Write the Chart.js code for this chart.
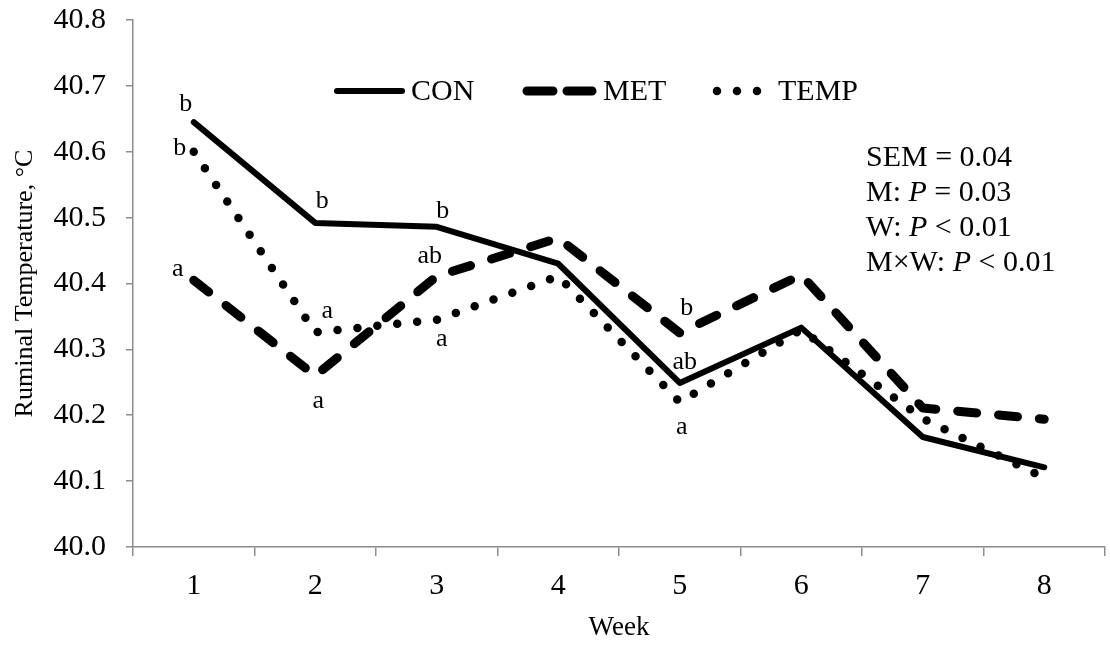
<!DOCTYPE html>
<html>
<head>
<meta charset="utf-8">
<script src="https://cdn.jsdelivr.net/npm/chart.js@4.4.1/dist/chart.umd.min.js"></script>
<style>
  html, body { margin: 0; padding: 0; background: #fff; }
  #wrap { width: 1110px; height: 645px; }
</style>
</head>
<body>
<div id="wrap"><canvas id="grafico" width="1110" height="645"></canvas></div>
<script>
// semanas y temperatura ruminal media (°C)
const semanas = ['1', '2', '3', '4', '5', '6', '7', '8'];
const con = [40.645, 40.492, 40.486, 40.430, 40.249, 40.333, 40.167, 40.121];
const met = [40.405, 40.260, 40.411, 40.469, 40.325, 40.413, 40.211, 40.194];
const temp = [40.600, 40.326, 40.345, 40.411, 40.220, 40.330, 40.195, 40.105];

// letras de separación de medias por semana
const letrasCon = ['b', 'b', 'b', '', 'ab', '', '', ''];
const letrasMet = ['a', 'a', 'ab', '', 'b', '', '', ''];
const letrasTemp = ['b', 'a', 'a', '', 'a', '', '', ''];

const yTicks = [40.0, 40.1, 40.2, 40.3, 40.4, 40.5, 40.6, 40.7, 40.8];

const FUENTE = '"Liberation Serif", "Times New Roman", serif';
const GRIS = '#8c8c8c';

const estilos = {
  CON: { borderWidth: 6, borderDash: [], cap: 'round' },
  MET: { borderWidth: 9, borderDash: [19, 22], cap: 'round' },
  TEMP: { borderWidth: 8.5, borderDash: [0, 20], cap: 'round' },
};

// desplazamiento (px) de cada letra respecto a su punto: [CON, MET, TEMP]
const offsets = {
  0: [[-8, -18], [-16, -11], [-14, -4]],
  1: [[7, -22], [3, 25], [12, -21]],
  2: [[6, -16], [-7, -20], [5, 19]],
  4: [[5, -21], [7, -25], [2, 25]],
};

const anotaciones = {
  id: 'anotaciones',
  afterDatasetsDraw(chart) {
    const ctx = chart.ctx;
    ctx.save();
    ctx.fillStyle = '#000';

    // letras
    ctx.font = '26px ' + FUENTE;
    ctx.textAlign = 'center';
    ctx.textBaseline = 'middle';
    const letras = [letrasCon, letrasMet, letrasTemp];
    letras.forEach((serie, d) => {
      const meta = chart.getDatasetMeta(d);
      serie.forEach((txt, i) => {
        if (!txt) return;
        const p = meta.data[i];
        const off = offsets[i][d];
        ctx.fillText(txt, p.x + off[0], p.y + off[1]);
      });
    });

    // leyenda
    const ly = 91;
    const items = [
      { key: 'CON', x0: 337, x1: 402, tx: 411, dash: [] },
      { key: 'MET', x0: 527, x1: 592, tx: 603, dash: [26, 14] },
      { key: 'TEMP', x0: 717, x1: 774, tx: 778, dash: estilos.TEMP.borderDash },
    ];
    ctx.textAlign = 'left';
    ctx.font = '30px ' + FUENTE;
    items.forEach((it) => {
      const e = estilos[it.key];
      ctx.save();
      ctx.strokeStyle = '#000';
      ctx.lineWidth = e.borderWidth;
      ctx.lineCap = e.cap;
      ctx.setLineDash(it.dash);
      ctx.beginPath();
      ctx.moveTo(it.x0, ly);
      ctx.lineTo(it.x1, ly);
      ctx.stroke();
      ctx.restore();
      ctx.fillText(it.key, it.tx, ly + 1);
    });

    // estadísticos
    const sx = 866;
    const lineas = [
      [['SEM = 0.04', false]],
      [['M: ', false], ['P', true], [' = 0.03', false]],
      [['W: ', false], ['P', true], [' < 0.01', false]],
      [['M\u00d7W: ', false], ['P', true], [' < 0.01', false]],
    ];
    lineas.forEach((partes, k) => {
      let x = sx;
      const y = 158 + k * 35;
      partes.forEach(([t, it]) => {
        ctx.font = (it ? 'italic ' : '') + '30px ' + FUENTE;
        ctx.fillText(t, x, y);
        x += ctx.measureText(t).width;
      });
    });
    ctx.restore();
  },
};

const serie = (label, data) => ({
  label,
  data,
  borderColor: '#000',
  backgroundColor: '#000',
  borderWidth: estilos[label].borderWidth,
  borderDash: estilos[label].borderDash,
  borderCapStyle: estilos[label].cap,
  borderJoinStyle: 'round',
  pointRadius: 0,
  tension: 0,
  fill: false,
});

const chart = new Chart(document.getElementById('grafico'), {
  type: 'line',
  data: {
    labels: semanas,
    datasets: [serie('CON', con), serie('MET', met), serie('TEMP', temp)],
  },
  options: {
    responsive: false,
    animation: false,
    layout: { padding: { left: 0, right: 5, top: 20, bottom: 0 } },
    plugins: { legend: { display: false }, tooltip: { enabled: false } },
    scales: {
      x: {
        type: 'category',
        offset: true,
        grid: { offset: true, drawOnChartArea: false, drawTicks: true, tickLength: 9, color: GRIS, lineWidth: 1.5 },
        border: { color: GRIS, width: 1.5 },
        ticks: { color: '#000', font: { family: FUENTE, size: 30 }, padding: 12, maxRotation: 0 },
        title: { display: true, text: 'Week', color: '#000', font: { family: FUENTE, size: 27 }, padding: { top: 6, bottom: 1 } },
        afterFit: (s) => { s.height = 98; },
      },
      y: {
        min: 40.0,
        max: 40.8,
        afterBuildTicks: (s) => { s.ticks = yTicks.map((v) => ({ value: v })); },
        grid: { drawOnChartArea: false, drawTicks: true, tickLength: 7, color: GRIS, lineWidth: 1.5 },
        border: { color: GRIS, width: 1.5 },
        ticks: { color: '#000', font: { family: FUENTE, size: 30 }, padding: 20, callback: (v) => Number(v).toFixed(1) },
        title: { display: true, text: 'Ruminal Temperature, \u00b0C', color: '#000', font: { family: FUENTE, size: 26 }, padding: { top: 10, bottom: 0 } },
        afterFit: (s) => {
          s.width = 133;
          // el margen superior lo fija layout.padding
          s.paddingTop = 0;
          s.paddingBottom = 0;
        },
      },
    },
  },
  plugins: [anotaciones],
});
</script>
</body>
</html>
